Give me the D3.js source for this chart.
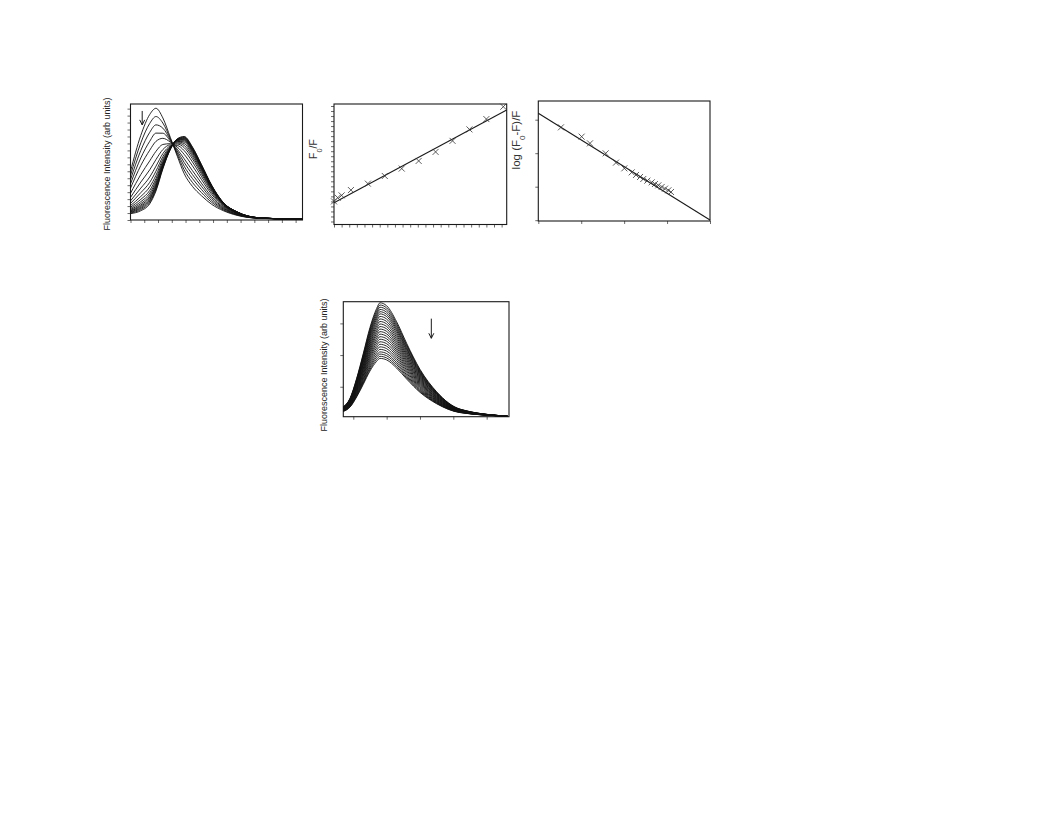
<!DOCTYPE html>
<html><head><meta charset="utf-8">
<script src="https://cdn.jsdelivr.net/npm/d3@7"></script>
<style>
body{margin:0;background:#fff}
svg{display:block}
text{font-family:"Liberation Sans",Arial,sans-serif;fill:#222}
</style>
</head><body>
<svg id="c" width="1056" height="816"></svg>
<script>
// ---------- Panel A: emission spectra with red shift ----------
const wavelengthsA = [400, 415, 428, 437, 447, 458, 468, 478, 490, 503, 518, 535, 555, 585, 650];
const spectraA = [
  [42, 73, 91, 96.3, 88, 71, 55, 40, 29, 21, 13.5, 8, 4, 1.5, 0.6],
  [38.4, 66.5, 83.3, 89.2, 83.6, 70, 56.5, 43.2, 32.4, 23.7, 15.2, 8.7, 4.3, 1.55, 0.6],
  [34.7, 60, 75.6, 82, 79.2, 69, 58, 46.4, 35.8, 26.4, 16.8, 9.4, 4.6, 1.6, 0.6],
  [31.1, 53.5, 67.9, 74.9, 74.8, 68, 59.5, 49.6, 39.2, 29.1, 18.5, 10.1, 4.9, 1.65, 0.6],
  [27.4, 47, 60.2, 67.8, 70.4, 67, 61, 52.8, 42.6, 31.8, 20.1, 10.8, 5.2, 1.7, 0.6],
  [23, 39.2, 51, 59.2, 65.1, 65.8, 62.8, 56.6, 46.7, 35, 22.1, 11.6, 5.6, 1.75, 0.6],
  [19.4, 32.7, 43.3, 52.1, 60.7, 64.8, 64.3, 59.8, 50.1, 37.7, 23.7, 12.3, 5.9, 1.8, 0.6],
  [16.5, 27.5, 37.1, 46.4, 57.2, 64, 65.5, 62.4, 52.8, 39.9, 25.1, 12.9, 6.1, 1.85, 0.6],
  [14.3, 23.6, 32.5, 42.1, 54.6, 63.4, 66.4, 64.3, 54.8, 41.5, 26, 13.3, 6.3, 1.9, 0.6],
  [12.4, 20.3, 28.6, 38.5, 52.4, 62.9, 67.2, 65.9, 56.5, 42.9, 26.9, 13.7, 6.4, 1.9, 0.6],
  [11, 17.8, 25.5, 35.7, 50.6, 62.5, 67.8, 67.2, 57.9, 44, 27.5, 14, 6.55, 1.9, 0.6],
  [9.9, 15.8, 23.2, 33.6, 49.3, 62.2, 68.2, 68.2, 58.9, 44.8, 28, 14.2, 6.6, 1.95, 0.6],
  [9, 14.2, 21.3, 31.8, 48.2, 62, 68.6, 69, 59.8, 45.4, 28.4, 14.3, 6.7, 1.95, 0.6],
  [8.2, 12.9, 19.8, 30.3, 47.3, 61.8, 68.9, 69.6, 60.5, 46, 28.8, 14.5, 6.8, 1.96, 0.6],
  [7.7, 11.9, 18.6, 29.3, 46.6, 61.6, 69.1, 70.1, 61, 46.4, 29, 14.6, 6.8, 1.97, 0.6],
  [7.1, 10.9, 17.5, 28.2, 46, 61.4, 69.3, 70.6, 61.5, 46.8, 29.3, 14.7, 6.9, 1.98, 0.6],
  [6.6, 10, 16.3, 27.1, 45.3, 61.3, 69.55, 71, 62, 47.2, 29.5, 14.8, 6.9, 2, 0.6],
  [6, 9, 15.2, 26.1, 44.7, 61.1, 69.8, 71.5, 62.5, 47.6, 29.75, 14.9, 7, 2, 0.6],
  [5.5, 8, 14, 25, 44, 61, 70, 72, 63, 48, 30, 15, 7, 2, 0.6]
];
const ticksAX = [400, 420, 440, 460, 480, 500, 520, 540, 560, 580, 600, 620, 640];
const ticksAY = [0, 6, 12, 18, 24, 30, 36, 42, 48, 54, 60, 66, 72, 78, 84, 90, 96];
const arrowA = [[417, 94], [417, 82]];

// ---------- Panel B: Stern-Volmer ----------
const quencherB = [0, 0.22, 0.45, 1, 2, 3, 4, 5, 6, 7, 8, 9, 10];
const ratioB = [1.0, 1.037, 1.06, 1.113, 1.177, 1.253, 1.327, 1.403, 1.493, 1.603, 1.717, 1.82, 1.943];
const fitB = [[0, 0.987], [10.2, 1.91]];
const ticksBX = [0, 0.45, 0.9, 1.35, 1.8, 2.25, 2.7, 3.15, 3.6, 4.05, 4.5, 4.95, 5.4, 5.85, 6.3, 6.75, 7.2, 7.65, 8.1, 8.55, 9.0, 9.45, 9.9];
const ticksBY = [0.8, 0.85, 0.9, 0.95, 1.0, 1.05, 1.1, 1.15, 1.2, 1.25, 1.3, 1.35, 1.4, 1.45, 1.5, 1.55, 1.6, 1.65, 1.7, 1.75, 1.8, 1.85, 1.9, 1.95];

// ---------- Panel C: double log plot ----------
const logQC = [-5.736, -5.495, -5.398, -5.215, -5.095, -4.998, -4.912, -4.862, -4.815, -4.777, -4.730, -4.679, -4.641, -4.602, -4.563, -4.524, -4.485, -4.454];
const logRatioC = [0.886, 0.747, 0.647, 0.498, 0.359, 0.274, 0.214, 0.175, 0.145, 0.115, 0.090, 0.065, 0.040, 0.020, -0.004, -0.029, -0.054, -0.079];
const fitC = [[-6, 1.096], [-4, -0.497]];
const ticksCX = [-6, -5.5, -5, -4.5, -4];
const ticksCY = [-0.5, 0, 0.5, 1.0];

// ---------- Panel D: quenched emission spectra ----------
const wavelengthsD = [335, 345, 355, 365, 375, 385, 390, 400, 415, 430, 450, 475, 510, 581];
const spectraD = [
  [36.6, 63, 126, 205, 287, 347, 365, 355.6, 305, 237, 155, 84, 29.4, 7],
  [36.0, 61.9, 123.7, 201.1, 281.5, 340.3, 358, 348.8, 299.2, 232.5, 152.1, 82.5, 29, 7],
  [35.4, 60.8, 121.3, 197.3, 276.1, 333.7, 351, 342, 293.3, 228, 149.2, 81, 28.5, 7],
  [34.9, 59.7, 119, 193.4, 270.6, 327, 344, 335.1, 287.5, 223.5, 146.3, 79.5, 28.1, 7],
  [34.3, 58.6, 116.7, 189.5, 265.1, 320.4, 337, 328.3, 281.7, 219, 143.4, 78, 27.6, 7],
  [33.7, 57.5, 114.4, 185.6, 259.6, 313.7, 330, 321.5, 275.9, 214.5, 140.5, 76.5, 27.2, 7],
  [33, 56.3, 111.7, 181.2, 253.4, 306.2, 322, 313.7, 269.2, 209.4, 137.2, 74.8, 26.7, 7],
  [32.4, 55, 109, 176.8, 247.1, 298.6, 314, 305.9, 262.5, 204.2, 133.9, 73, 26.2, 7],
  [31.7, 53.8, 106.4, 172.4, 240.9, 291, 306, 298.2, 255.9, 199.1, 130.6, 71.3, 25.7, 7],
  [31.1, 52.5, 103.7, 167.9, 234.6, 283.4, 298, 290.3, 249.2, 193.9, 127.3, 69.6, 25.2, 7],
  [30.4, 51.3, 101.1, 163.5, 228.3, 275.8, 290, 282.6, 242.6, 188.8, 124, 67.9, 24.7, 7],
  [29.7, 50, 98.4, 159.1, 222.1, 268.2, 282, 274.8, 235.9, 183.7, 120.7, 66.2, 24.2, 7],
  [29.1, 48.8, 95.8, 154.7, 215.8, 260.6, 274, 267, 229.2, 178.5, 117.4, 64.4, 23.7, 7],
  [28.4, 47.5, 93.1, 150.3, 209.6, 253, 266, 259.2, 222.6, 173.4, 114.1, 62.7, 23.2, 7],
  [27.8, 46.3, 90.4, 145.8, 203.3, 245.4, 258, 251.4, 215.9, 168.3, 110.8, 61, 22.7, 7],
  [27.1, 45, 87.8, 141.4, 197.1, 237.8, 250, 243.6, 209.3, 163.1, 107.5, 59.3, 22.2, 7],
  [26.4, 43.8, 85.1, 137, 190.8, 230.2, 242, 235.8, 202.6, 158, 104.1, 57.5, 21.7, 7],
  [25.8, 42.5, 82.5, 132.6, 184.5, 222.6, 234, 228.1, 196, 152.8, 100.8, 55.8, 21.2, 7],
  [25.1, 41.3, 79.8, 128.1, 178.3, 215, 226, 220.2, 189.3, 147.7, 97.5, 54.1, 20.7, 7],
  [24.4, 40, 77.1, 123.7, 172, 207.4, 218, 212.5, 182.6, 142.6, 94.2, 52.4, 20.2, 7],
  [23.8, 38.8, 74.5, 119.3, 165.8, 199.8, 210, 204.7, 176, 137.4, 90.9, 50.7, 19.7, 7],
  [23.2, 37.7, 72.2, 115.4, 160.3, 193.2, 203, 197.9, 170.2, 132.9, 88, 49.2, 19.3, 7],
  [22.6, 36.6, 69.8, 111.5, 154.8, 186.5, 196, 191, 164.3, 128.4, 85.1, 47.6, 18.8, 7],
  [22.1, 35.5, 67.7, 107.9, 149.7, 180.3, 189.5, 184.7, 158.9, 124.3, 82.4, 46.3, 18.4, 7]
];
const ticksDX = [350, 400, 450, 500, 550];
const ticksDY = [100, 200, 300];
const arrowD = [[467, 315], [467, 253]];

// ---------- drawing ----------
const svg = d3.select('#c');
const ink = '#1a1a1a';

function makePanel(box, xd, yd, xt, yt) {
  const x = d3.scaleLinear().domain(xd).range([box.x0, box.x1]);
  const y = d3.scaleLinear().domain(yd).range([box.y1, box.y0]);
  const g = svg.append('g');
  const ax = g.append('g').attr('transform', `translate(0,${box.y1})`)
    .call(d3.axisBottom(x).tickValues(xt).tickSize(3).tickFormat(''));
  const ay = g.append('g').attr('transform', `translate(${box.x0},0)`)
    .call(d3.axisLeft(y).tickValues(yt).tickSize(3).tickFormat(''));
  [ax, ay].forEach(a => { a.select('.domain').remove(); a.selectAll('line').attr('stroke', '#444').attr('stroke-width', 0.8); });
  g.append('rect').attr('x', box.x0).attr('y', box.y0)
    .attr('width', box.x1 - box.x0).attr('height', box.y1 - box.y0)
    .attr('fill', 'none').attr('stroke', ink).attr('stroke-width', 1.1);
  return {x, y, g};
}

function arrow(p, pts) {
  const x1 = p.x(pts[0][0]), y1 = p.y(pts[0][1]), x2 = p.x(pts[1][0]), y2 = p.y(pts[1][1]);
  p.g.append('line').attr('x1', x1).attr('y1', y1).attr('x2', x2).attr('y2', y2)
    .attr('stroke', ink).attr('stroke-width', 1);
  p.g.append('path').attr('d', `M${x2 - 2.5},${y2 - 5}L${x2},${y2}L${x2 + 2.5},${y2 - 5}`)
    .attr('fill', 'none').attr('stroke', ink).attr('stroke-width', 1);
}

function crosses(p, xs, ys) {
  p.g.selectAll(null).data(xs.map((v, i) => [v, ys[i]])).enter().append('path')
    .attr('d', d => { const cx = p.x(d[0]), cy = p.y(d[1]), s = 3; return `M${cx - s},${cy - s}L${cx + s},${cy + s}M${cx - s},${cy + s}L${cx + s},${cy - s}`; })
    .attr('stroke', '#333').attr('stroke-width', 0.8).attr('fill', 'none');
}

function ylabel(x, y, parts, size, fill) {
  const t = svg.append('text').attr('transform', `translate(${x},${y}) rotate(-90)`)
    .attr('text-anchor', 'middle').attr('font-size', size).style('fill', fill || '#222');
  parts.forEach(pt => {
    const s = t.append('tspan').text(pt[0]);
    if (pt[1]) s.attr('baseline-shift', 'sub').attr('font-size', size * 0.7);
  });
}

// Panel A
const pA = makePanel({x0: 130.5, x1: 302.5, y0: 104, y1: 220}, [400, 650], [0, 100], ticksAX, ticksAY);
const lineA = d3.line().x((d, i) => pA.x(wavelengthsA[i])).y(d => pA.y(d)).curve(d3.curveMonotoneX);
pA.g.selectAll(null).data(spectraA).enter().append('path')
  .attr('d', lineA).attr('fill', 'none').attr('stroke', '#111').attr('stroke-width', 0.9);
arrow(pA, arrowA);
ylabel(110, 164, [['Fluorescence Intensity (arb units)']], 9);

// Panel B
const pB = makePanel({x0: 334, x1: 506.7, y0: 104, y1: 224.5}, [0, 10.2], [0.77, 1.97], ticksBX, ticksBY);
pB.g.append('path').datum(fitB)
  .attr('d', d3.line().x(d => pB.x(d[0])).y(d => pB.y(d[1])))
  .attr('stroke', ink).attr('stroke-width', 1.1).attr('fill', 'none');
crosses(pB, quencherB, ratioB);
ylabel(317, 149, [['F'], ['0', true], ['/F']], 10.5, '#333');

// Panel C
const pC = makePanel({x0: 538.3, x1: 710, y0: 101, y1: 221}, [-6, -4], [-0.512, 1.279], ticksCX, ticksCY);
pC.g.append('path').datum(fitC)
  .attr('d', d3.line().x(d => pC.x(d[0])).y(d => pC.y(d[1])))
  .attr('stroke', ink).attr('stroke-width', 1.1).attr('fill', 'none');
crosses(pC, logQC, logRatioC);
ylabel(520, 140, [['log (F'], ['0', true], ['-F)/F']], 11.5, '#333');

// Panel D
const pD = makePanel({x0: 343.3, x1: 509, y0: 301.7, y1: 416.7}, [335, 583.5], [5.4, 368.5], ticksDX, ticksDY);
const lineD = d3.line().x((d, i) => pD.x(wavelengthsD[i])).y(d => pD.y(d)).curve(d3.curveMonotoneX);
pD.g.selectAll(null).data(spectraD).enter().append('path')
  .attr('d', lineD).attr('fill', 'none').attr('stroke', '#111').attr('stroke-width', 0.9);
arrow(pD, arrowD);
ylabel(327, 365, [['Fluorescence Intensity (arb units)']], 9);
</script>
</body></html>
